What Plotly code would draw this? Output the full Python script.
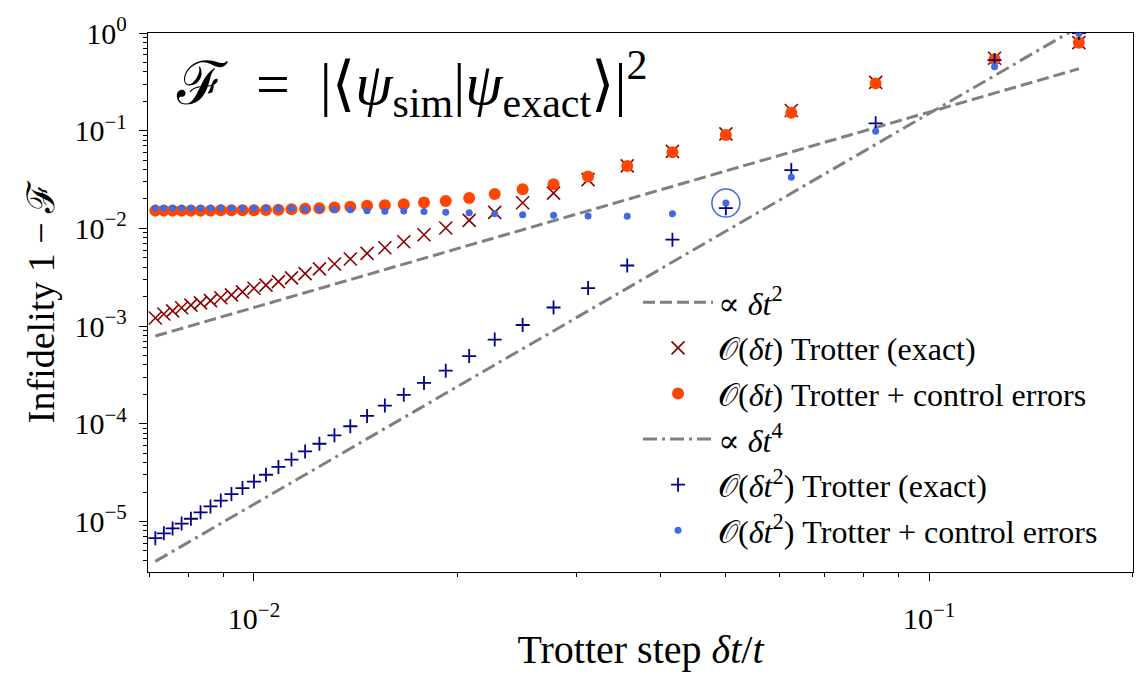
import plotly.graph_objects as go

# Number of Trotter steps (x = delta t / t = 1/N)
steps = [140, 136, 132, 128, 124, 120, 116, 112, 108, 104, 100, 96, 92, 88, 84,
         80, 76, 72, 68, 64, 60, 56, 52, 48, 44, 40, 36, 32, 28, 24, 20, 16, 12, 8, 6]

# O(dt) Trotter (exact)
first_exact = [1.21e-3, 1.33e-3, 1.43e-3, 1.54e-3, 1.64e-3, 1.73e-3, 1.82e-3, 1.95e-3,
               2.09e-3, 2.24e-3, 2.44e-3, 2.63e-3, 2.85e-3, 3.12e-3, 3.44e-3, 3.85e-3,
               4.32e-3, 4.86e-3, 5.55e-3, 6.34e-3, 7.3e-3, 8.6e-3, 1.01e-2, 1.21e-2,
               1.46e-2, 1.83e-2, 2.30e-2, 3.16e-2, 4.36e-2, 6.14e-2, 9.27e-2, 0.161,
               0.312, 0.552, 0.796]

# O(dt) Trotter + control errors
first_ctrl = [0.0152, 0.0152, 0.0152, 0.0152, 0.0152, 0.0152, 0.0152, 0.0153, 0.0153,
              0.0153, 0.0153, 0.0154, 0.0155, 0.0157, 0.0159, 0.0161, 0.0164, 0.0167,
              0.0171, 0.0173, 0.0177, 0.0184, 0.0191, 0.0205, 0.0225, 0.0252, 0.0283,
              0.0339, 0.0436, 0.0601, 0.0906, 0.153, 0.305, 0.540, 0.796]

# O(dt^2) Trotter (exact)
second_exact = [6.75e-6, 7.57e-6, 8.49e-6, 9.51e-6, 1.067e-5, 1.242e-5, 1.425e-5,
                1.636e-5, 1.906e-5, 2.20e-5, 2.56e-5, 3.01e-5, 3.62e-5, 4.30e-5,
                5.21e-5, 6.25e-5, 7.62e-5, 9.44e-5, 1.203e-4, 1.537e-4, 1.977e-4,
                2.62e-4, 3.50e-4, 4.93e-4, 7.28e-4, 1.026e-3, 1.55e-3, 2.45e-3,
                4.17e-3, 7.67e-3, 1.61e-2, 3.95e-2, 0.119, 0.527, 1.0]

# O(dt^2) Trotter + control errors
second_ctrl = [0.0162, 0.0162, 0.0162, 0.0162, 0.0162, 0.0162, 0.0162, 0.0162, 0.0161,
               0.0161, 0.0161, 0.0161, 0.0160, 0.0160, 0.0158, 0.0158, 0.0156, 0.0155,
               0.0152, 0.0150, 0.0151, 0.0149, 0.01465, 0.01445, 0.0141, 0.0138,
               0.0136, 0.01337, 0.01328, 0.0141, 0.01816, 0.0334, 0.0986, 0.452, 0.99]

# reference scaling prefactors
coef_dt2 = 15.5
coef_dt4 = 1500.0
highlight_steps = 20

dt = [1.0 / n for n in steps]
ref2 = [coef_dt2 * x ** 2 for x in dt]
ref4 = [coef_dt4 * x ** 4 for x in dt]

FONT = "Liberation Serif, DejaVu Serif, serif"
GREY = "#808080"

fig = go.Figure()
fig.add_trace(go.Scatter(x=dt, y=ref2, mode="lines", name="∝ <i>δt</i><sup>2</sup>",
                         line=dict(color=GREY, width=3, dash="12px,5px"), legendgroup="a"))
fig.add_trace(go.Scatter(x=dt, y=first_exact, mode="markers",
                         name="𝒪(<i>δt</i>) Trotter (exact)", legendgroup="b",
                         marker=dict(symbol="x-thin", size=13, color="#8B0000",
                                     line=dict(color="#8B0000", width=1.6))))
fig.add_trace(go.Scatter(x=dt, y=first_ctrl, mode="markers",
                         name="𝒪(<i>δt</i>) Trotter + control errors", legendgroup="c",
                         marker=dict(symbol="circle", size=12, color="#FF4500")))
fig.add_trace(go.Scatter(x=dt, y=ref4, mode="lines", name="∝ <i>δt</i><sup>4</sup>",
                         line=dict(color=GREY, width=3, dash="14px,5px,3px,5px"), legendgroup="d"))
fig.add_trace(go.Scatter(x=dt, y=second_exact, mode="markers",
                         name="𝒪(<i>δt</i><sup>2</sup>) Trotter (exact)", legendgroup="e",
                         marker=dict(symbol="cross-thin", size=10, color="#00008B",
                                     line=dict(color="#00008B", width=1.8))))
fig.add_trace(go.Scatter(x=dt, y=second_ctrl, mode="markers",
                         name="𝒪(<i>δt</i><sup>2</sup>) Trotter + control errors", legendgroup="f",
                         marker=dict(symbol="circle", size=7, color="#4169E1")))
hi = steps.index(highlight_steps)
fig.add_trace(go.Scatter(x=[dt[hi]], y=[second_ctrl[hi]], mode="markers", showlegend=False,
                         marker=dict(symbol="circle-open", size=28, color="#4169E1",
                                     line=dict(color="#4169E1", width=1.5))))

xminor = [k * 10 ** e for e in (-3, -2, -1) for k in range(2, 10)]
yminor = [k * 10 ** e for e in (-6, -5, -4, -3, -2, -1) for k in range(2, 10)]

axis_common = dict(type="log", ticks="outside", ticklen=8, tickwidth=1.3, tickcolor="black",
                   showline=True, linecolor="black", linewidth=1.3, mirror=True,
                   showgrid=False, zeroline=False,
                   tickfont=dict(family=FONT, size=30, color="black"))

fig.update_xaxes(range=[-2.157, -0.698], tickvals=[0.01, 0.1],
                 ticktext=["10<sup>−2</sup>", "10<sup>−1</sup>"],
                 ticklabelstandoff=12,
                 minor=dict(tickvals=xminor, ticks="outside", ticklen=4, tickwidth=1,
                            tickcolor="black", showgrid=False),
                 title=dict(text="Trotter step <i>δt</i>/<i>t</i>",
                            font=dict(family=FONT, size=40, color="black"), standoff=0),
                 **axis_common)
fig.update_yaxes(range=[-5.517, 0], tickvals=[1e-5, 1e-4, 1e-3, 1e-2, 1e-1, 1],
                 ticktext=["10<sup>−5</sup>", "10<sup>−4</sup>", "10<sup>−3</sup>",
                           "10<sup>−2</sup>", "10<sup>−1</sup>", "10<sup>0</sup>"],
                 ticklabelstandoff=6,
                 minor=dict(tickvals=yminor, ticks="outside", ticklen=4, tickwidth=1,
                            tickcolor="black", showgrid=False),
                 title=dict(text="Infidelity 1 − ℱ",
                            font=dict(family=FONT, size=38, color="black"), standoff=8),
                 **axis_common)

fig.add_annotation(xref="paper", yref="paper", x=0.026, y=0.905, xanchor="left",
                   yanchor="middle", showarrow=False,
                   text="ℱ  =  |⟨<i>ψ</i><sub>sim</sub>|<i>ψ</i><sub>exact</sub>⟩|<sup>2</sup>",
                   font=dict(family=FONT, size=60, color="black"))

fig.update_layout(width=1148, height=675, margin=dict(l=148, r=15, t=22, b=97),
                  paper_bgcolor="white", plot_bgcolor="white",
                  font=dict(family=FONT, color="black"),
                  legend=dict(x=0.4975, y=0.551, xanchor="left", yanchor="top",
                              font=dict(family=FONT, size=32, color="black"),
                              bgcolor="rgba(0,0,0,0)", itemwidth=70, tracegroupgap=1))

fig.write_html("out.html")
